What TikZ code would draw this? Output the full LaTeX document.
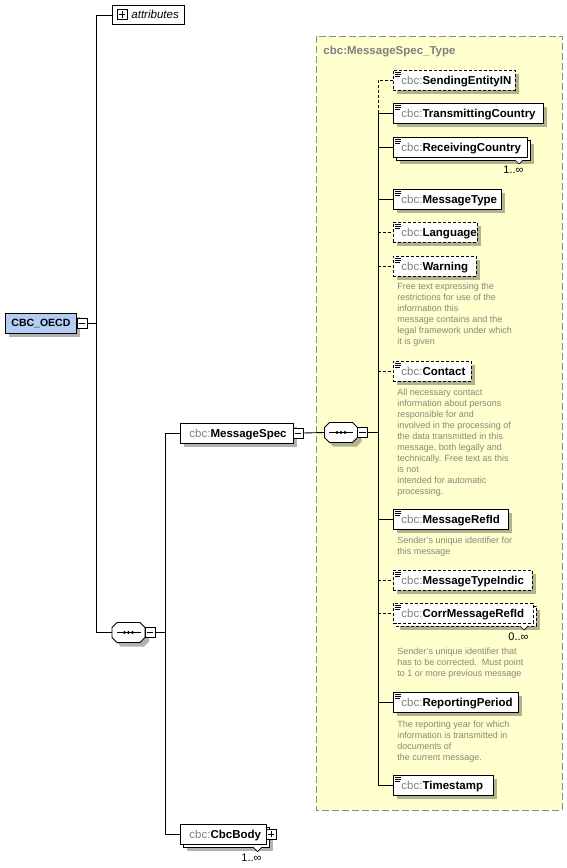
\documentclass[tikz,border=0pt]{standalone}
\usepackage{fontspec}
\setmainfont{Liberation Sans}
\definecolor{oecdblue}{RGB}{178,204,242}
\definecolor{ybg}{RGB}{255,255,206}
\definecolor{cbcgray}{RGB}{128,128,128}
\definecolor{anngray}{RGB}{135,135,122}
\definecolor{framegray}{RGB}{140,140,130}
\newcommand\elfont{\fontsize{11.5}{13}\selectfont}
\newcommand\annfont{\fontsize{9}{11}\selectfont}
\tikzset{
  shdc/.style={fill=black,fill opacity=0.3},
  elbox/.style={draw=black,fill=white,rectangle,anchor=north west,minimum height=20pt,inner sep=0pt},
  eltext/.style={anchor=base west,inner sep=0pt,font=\elfont},
  optl/.style={dash pattern=on 3pt off 2pt},
  pmbox/.style={draw=black,fill=white,rectangle,minimum size=10pt,inner sep=0pt,line width=0.7pt},
  ann/.style={anchor=north west,inner sep=0pt,align=left,font=\annfont,text=anngray},
  mult/.style={anchor=base east,inner sep=0pt,font=\fontsize{11}{12}\selectfont},
}
\newcommand\elicon[1]{%
  \draw[line width=0.7pt] ([xshift=2pt,yshift=-2.5pt]#1.north west) -- ++(6,0);
  \draw[line width=0.7pt] ([xshift=2pt,yshift=-4.5pt]#1.north west) -- ++(6,0);
  \draw[line width=0.7pt] ([xshift=2pt,yshift=-6.5pt]#1.north west) -- ++(5,0);
}
\newcommand\elem[6]{%
  \fill[shdc] (#2+4,#3+4) rectangle (#2+#4+4,#3+24);
  \node[elbox,#5,minimum width=#4pt] (#1) at (#2,#3) {};
  \node[eltext] (#1t) at ([xshift=8pt,yshift=-4pt]#1.west) {\textcolor{cbcgray}{cbc:}\textbf{#6}};
  \elicon{#1}%
}
\newcommand\elemm[6]{%
  \fill[shdc] (#2+7,#3+7) rectangle (#2+#4+7,#3+27);
  \draw[fill=white,#5] (#2+3,#3+3) rectangle (#2+#4+3,#3+23);
  \node[elbox,#5,minimum width=#4pt] (#1) at (#2,#3) {};
  \node[eltext] (#1t) at ([xshift=8pt,yshift=-4pt]#1.west) {\textcolor{cbcgray}{cbc:}\textbf{#6}};
  \elicon{#1}%
}
\newcommand\compo[3]{%
  \fill[shdc] (#2-11.5+4,#3-10+4) -- (#2+11.5+4,#3-10+4) -- (#2+16.5+4,#3-5+4) -- (#2+16.5+4,#3+5+4) -- (#2+11.5+4,#3+10+4) -- (#2-11.5+4,#3+10+4) -- (#2-16.5+4,#3+5+4) -- (#2-16.5+4,#3-5+4) -- cycle;
  \node[inner sep=0pt,minimum width=33pt,minimum height=20pt] (#1) at (#2,#3) {};
  \draw[fill=white] (#2-11.5,#3-10) -- (#2+11.5,#3-10) -- (#2+16.5,#3-5) -- (#2+16.5,#3+5) -- (#2+11.5,#3+10) -- (#2-11.5,#3+10) -- (#2-16.5,#3+5) -- (#2-16.5,#3-5) -- cycle;
  \draw (#2-12,#3) -- (#2+12,#3);
  \fill (#2-4,#3) circle (1.6) (#2,#3) circle (1.6) (#2+4,#3) circle (1.6);
  \node[pmbox] (#1m) at (#2+21.5,#3) {};
  \draw[line width=0.7pt] ([xshift=2pt]#1m.west) -- ([xshift=-2pt]#1m.east);
}
\begin{document}
\begin{tikzpicture}[x=1pt,y=-1pt,line width=0.9pt]
\useasboundingbox (0,0) rectangle (567,868);
\fill[white] (0,0) rectangle (567,868);
% type box
\draw[fill=ybg,draw=framegray,dash pattern=on 7pt off 3pt] (316,36) rectangle (562,810);
\node[anchor=base west,inner sep=0pt,font=\elfont\bfseries,text=cbcgray] (ttl) at (323,54) {cbc:MessageSpec\_Type};
% attributes
\node[draw,fill=white,anchor=north west,minimum width=72pt,minimum height=19pt,inner sep=0pt] (attr) at (112,5) {};
\node[pmbox] (attrp) at (122,14.5) {};
\draw[line width=0.7pt] ([xshift=2pt]attrp.west) -- ([xshift=-2pt]attrp.east);
\draw[line width=0.7pt] ([yshift=-2pt]attrp.north) -- ([yshift=2pt]attrp.south);
\node[anchor=base west,inner sep=0pt,font=\elfont\itshape] (attrt) at (131,18.5) {attributes};
% root
\fill[shdc] (9,317) rectangle (80,337);
\node[draw,fill=oecdblue,anchor=north west,minimum width=71pt,minimum height=20pt,inner sep=0pt,font=\fontsize{10.5}{12}\selectfont\bfseries] (oecd) at (5,313) {CBC\_OECD};
\node[pmbox] (oecdm) at (82,323) {};
\draw[line width=0.7pt] ([xshift=2pt]oecdm.west) -- ([xshift=-2pt]oecdm.east);
% compositors
\compo{seqa}{128.5}{632.5}
\compo{seqb}{341}{432.5}
% MessageSpec
\fill[shdc] (184,427) rectangle (297,447);
\node[elbox,minimum width=113pt] (ms) at (180,423) {};
\node[eltext] (mst) at ([xshift=9pt,yshift=-4pt]ms.west) {\textcolor{cbcgray}{cbc:}\textbf{MessageSpec}};
\node[pmbox] (msm) at (298,433) {};
\draw[line width=0.7pt] ([xshift=2pt]msm.west) -- ([xshift=-2pt]msm.east);
% CbcBody
\fill[shdc] (187,831) rectangle (273,851);
\draw[fill=white] (183,827) rectangle (269,847);
\node[elbox,minimum width=86pt] (cbcb) at (180,824) {};
\node[eltext] (cbcbt) at ([xshift=9pt,yshift=-4pt]cbcb.west) {\textcolor{cbcgray}{cbc:}\textbf{CbcBody}};
\node[pmbox] (cbcbp) at (271,834) {};
\draw[line width=0.7pt] ([xshift=2pt]cbcbp.west) -- ([xshift=-2pt]cbcbp.east);
\draw[line width=0.7pt] ([yshift=-2pt]cbcbp.north) -- ([yshift=2pt]cbcbp.south);
\draw[fill=white,line width=0.7pt] (253,847) -- (257.5,851.5) -- (262,847);
\node[mult] (cbcbmul) at (262,861) {1..∞};
% elements
\elem{sei}{393}{70}{122}{optl}{SendingEntityIN}
\elem{tc}{393}{103}{150}{solid}{TransmittingCountry}
\elemm{rc}{393}{137}{134}{solid}{ReceivingCountry}
\draw[fill=white,line width=0.7pt] (515,160) -- (519,164) -- (523,160);
\node[mult] (rcmul) at (524,173.5) {1..∞};
\elem{mt}{393}{189}{108}{solid}{MessageType}
\elem{lang}{393}{222}{84}{optl}{Language}
\elem{warn}{393}{256}{83}{optl}{Warning}
\node[ann] (warna) at (397,283) {Free text expressing the\\restrictions for use of the\\information this\\message contains and the\\legal framework under which\\it is given};
\elem{cont}{393}{361}{78}{optl}{Contact}
\node[ann] (conta) at (397,389) {All necessary contact\\information about persons\\responsible for and\\involved in the processing of\\the data transmitted in this\\message, both legally and\\technically. Free text as this\\is not\\intended for automatic\\processing.};
\elem{mri}{393}{509}{115}{solid}{MessageRefId}
\node[ann] (mria) at (397,537) {Sender's unique identifier for\\this message};
\elem{mti}{393}{570}{139}{optl}{MessageTypeIndic}
\elemm{cmri}{393}{603}{140}{optl}{CorrMessageRefId}
\draw[fill=white,line width=0.7pt] (520,626) -- (524,630) -- (528,626);
\node[mult] (cmrimul) at (529,640.5) {0..∞};
\node[ann] (cmria) at (397,648) {Sender's unique identifier that\\has to be corrected.\ \ Must point\\to 1 or more previous message};
\elem{rp}{393}{692}{125}{solid}{ReportingPeriod}
\node[ann] (rpa) at (397,721) {The reporting year for which\\information is transmitted in\\documents of\\the current message.};
\elem{ts}{393}{775}{100}{solid}{Timestamp}
% connectors
\coordinate (va) at (96,0);
\coordinate (vb) at (165,0);
\coordinate (vc) at (378,0);
\draw (attr.west) -| (va |- seqa.west) -- (seqa.west);
\draw (oecdm.east) -- (va |- oecdm.east);
\draw (seqam.east) -- (vb |- seqam.east);
\draw (ms.west) -| (vb |- cbcb.west) -- (cbcb.west);
\draw (msm.east) -- (seqb.west);
\draw (seqbm.east) -- (vc |- seqbm.east);
\draw[optl] (sei.west) -| (vc |- tc.west);
\draw (tc.west) -| (vc |- ts.west) -- (ts.west);
\draw (vc |- rc.west) -- (rc.west);
\draw (vc |- mt.west) -- (mt.west);
\draw[optl] (vc |- lang.west) -- (lang.west);
\draw[optl] (vc |- warn.west) -- (warn.west);
\draw[optl] (vc |- cont.west) -- (cont.west);
\draw (vc |- mri.west) -- (mri.west);
\draw[optl] (vc |- mti.west) -- (mti.west);
\draw[optl] (vc |- cmri.west) -- (cmri.west);
\draw (vc |- rp.west) -- (rp.west);
\end{tikzpicture}
\end{document}
